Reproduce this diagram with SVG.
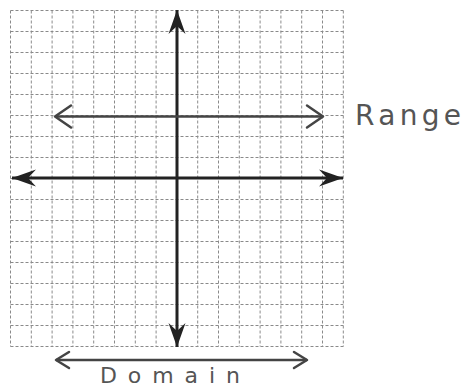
<svg xmlns="http://www.w3.org/2000/svg" width="465" height="389" viewBox="0 0 465 389">
<style>
.grid line{stroke:#8a8a8a;stroke-width:1;stroke-dasharray:3 2}
.axis{stroke:#222;stroke-width:3;fill:none}
.span{stroke:#444;stroke-width:2.5;fill:none}
.chev{stroke:#444;stroke-width:2.5;fill:none;stroke-linecap:round;stroke-linejoin:round}
.label{font-family:"DejaVu Sans","Liberation Sans",sans-serif;fill:#555}
</style>
<defs>
<marker id="dart" viewBox="-26 -10 28 20" refX="0" refY="0" markerUnits="userSpaceOnUse" markerWidth="28" markerHeight="20" orient="auto-start-reverse">
<path d="M0,0 L-24,-8.5 L-16,0 L-24,8.5 Z" fill="#222"/>
</marker>
<marker id="open" viewBox="-20 -14 22 28" refX="0" refY="0" markerUnits="userSpaceOnUse" markerWidth="22" markerHeight="28" orient="auto-start-reverse">
<path d="M-16,-11 L0,0 L-16,11" class="chev"/>
</marker>
<marker id="openS" viewBox="-16 -11 18 22" refX="0" refY="0" markerUnits="userSpaceOnUse" markerWidth="18" markerHeight="22" orient="auto-start-reverse">
<path d="M-13,-8 L0,0 L-13,8" class="chev"/>
</marker>
</defs>
<rect width="465" height="389" fill="#fff"/>
<g id="grid" class="grid">
<line x1="10.5" y1="10.5" x2="10.5" y2="346.5"/>
<line x1="31.3" y1="10.5" x2="31.3" y2="346.5"/>
<line x1="52.1" y1="10.5" x2="52.1" y2="346.5"/>
<line x1="72.9" y1="10.5" x2="72.9" y2="346.5"/>
<line x1="93.7" y1="10.5" x2="93.7" y2="346.5"/>
<line x1="114.5" y1="10.5" x2="114.5" y2="346.5"/>
<line x1="135.3" y1="10.5" x2="135.3" y2="346.5"/>
<line x1="156.1" y1="10.5" x2="156.1" y2="346.5"/>
<line x1="176.9" y1="10.5" x2="176.9" y2="346.5"/>
<line x1="197.7" y1="10.5" x2="197.7" y2="346.5"/>
<line x1="218.5" y1="10.5" x2="218.5" y2="346.5"/>
<line x1="239.3" y1="10.5" x2="239.3" y2="346.5"/>
<line x1="260.1" y1="10.5" x2="260.1" y2="346.5"/>
<line x1="280.9" y1="10.5" x2="280.9" y2="346.5"/>
<line x1="301.7" y1="10.5" x2="301.7" y2="346.5"/>
<line x1="322.5" y1="10.5" x2="322.5" y2="346.5"/>
<line x1="343.3" y1="10.5" x2="343.3" y2="346.5"/>
<line x1="10.5" y1="10.5" x2="343.3" y2="10.5"/>
<line x1="10.5" y1="31.5" x2="343.3" y2="31.5"/>
<line x1="10.5" y1="52.5" x2="343.3" y2="52.5"/>
<line x1="10.5" y1="73.5" x2="343.3" y2="73.5"/>
<line x1="10.5" y1="94.5" x2="343.3" y2="94.5"/>
<line x1="10.5" y1="115.5" x2="343.3" y2="115.5"/>
<line x1="10.5" y1="136.5" x2="343.3" y2="136.5"/>
<line x1="10.5" y1="157.5" x2="343.3" y2="157.5"/>
<line x1="10.5" y1="178.5" x2="343.3" y2="178.5"/>
<line x1="10.5" y1="199.5" x2="343.3" y2="199.5"/>
<line x1="10.5" y1="220.5" x2="343.3" y2="220.5"/>
<line x1="10.5" y1="241.5" x2="343.3" y2="241.5"/>
<line x1="10.5" y1="262.5" x2="343.3" y2="262.5"/>
<line x1="10.5" y1="283.5" x2="343.3" y2="283.5"/>
<line x1="10.5" y1="304.5" x2="343.3" y2="304.5"/>
<line x1="10.5" y1="325.5" x2="343.3" y2="325.5"/>
<line x1="10.5" y1="346.5" x2="343.3" y2="346.5"/>
</g>
<g id="connectors">
<line id="y-axis" class="axis" x1="177" y1="10" x2="177" y2="347" marker-start="url(#dart)" marker-end="url(#dart)"/>
<line id="x-axis" class="axis" x1="12" y1="178" x2="343" y2="178" marker-start="url(#dart)" marker-end="url(#dart)"/>
<line id="range-arrow" class="span" x1="55" y1="116.5" x2="323" y2="116.5" marker-start="url(#open)" marker-end="url(#open)"/>
<line id="domain-arrow" class="span" x1="56" y1="360" x2="307" y2="360" marker-start="url(#openS)" marker-end="url(#openS)"/>
</g>
<g id="range-label">
<text class="label" x="355" y="125" font-size="28" textLength="106" lengthAdjust="spacing">Range</text>
</g>
<g id="domain-label">
<text class="label" x="100" y="383" font-size="22" textLength="140" lengthAdjust="spacing">Domain</text>
</g>
</svg>
